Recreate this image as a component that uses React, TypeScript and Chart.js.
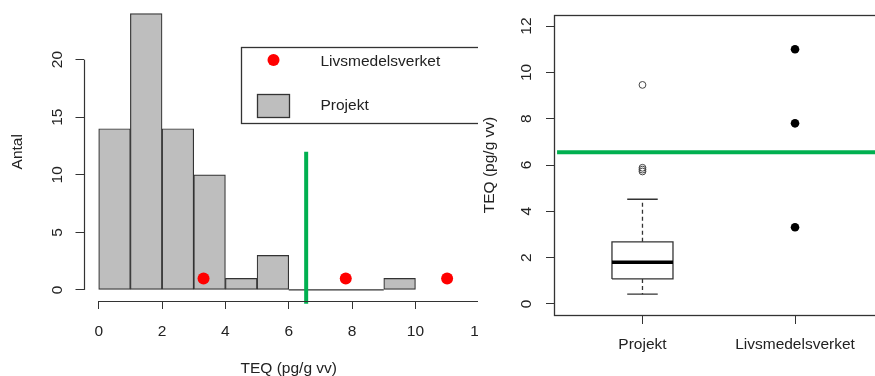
import React, { useEffect, useRef } from "react";
import { Chart, registerables } from "chart.js";

Chart.register(...registerables);

// ---------------- data ----------------
const histBinEdges = [0, 1, 2, 3, 4, 5, 6, 7, 8, 9, 10];
const histCounts = [14, 24, 14, 10, 1, 3, 0, 0, 0, 1];
const histXTicks = [0, 2, 4, 6, 8, 10, 12];
const histYTicks = [0, 5, 10, 15, 20];
const livsmedelsverketValues = [3.31, 7.8, 11.0];
const livsmedelsverketCountLevel = 1;
const limitValue = 6.55;
const limitSpanCounts = [-1.2, 12];

const boxCategories = ["Projekt", "Livsmedelsverket"];
// lower whisker, Q1, median, Q3, upper whisker
const projektStats = [0.42, 1.08, 1.8, 2.68, 4.52];
const projektOutliers = [5.72, 5.8, 5.88, 9.46];
const boxYTicks = [0, 2, 4, 6, 8, 10, 12];
const legendLabels = ["Livsmedelsverket", "Projekt"];

// ---------------- axis ranges (R style 4% extension) ----------------
const histXRange = [-0.48, 12.48];
const histYRange = [-0.96, 24.96];
const boxXRange = [0.42, 2.58];
const boxYRange = [-0.48, 12.48];

// ---------------- styles ----------------
const FONT = "'Liberation Sans', Arial, Helvetica, sans-serif";
const FS = 15.5;
const TXT = "#222222";
const AXIS = "#333333";
const BAR_FILL = "#BEBEBE";
const GREEN = "#00B050";
const RED = "#FF0000";

const W_LEFT = 500;
const H = 376;
const W_RIGHT = 420;

function tickGrid(len: number) {
  return {
    display: true,
    drawOnChartArea: false,
    drawTicks: true,
    offset: false,
    tickLength: len,
    tickColor: AXIS,
    tickWidth: 1,
  };
}

function zeroPad(s: any) {
  s.paddingTop = 0;
  s.paddingBottom = 0;
  s.paddingLeft = 0;
  s.paddingRight = 0;
}

// ---------------- histogram chart ----------------
function histConfig(): any {
  const bars = histCounts.map((c, i) => ({
    x: (histBinEdges[i] + histBinEdges[i + 1]) / 2,
    y: c,
  }));
  const zeroBins: any[] = [];
  histCounts.forEach((c, i) => {
    if (c === 0) {
      zeroBins.push({ x: histBinEdges[i], y: 0 }, { x: histBinEdges[i + 1], y: 0 });
    } else {
      zeroBins.push({ x: histBinEdges[i], y: null });
    }
  });
  const redPts = livsmedelsverketValues.map((v) => ({ x: v, y: livsmedelsverketCountLevel }));
  const limitLine = limitSpanCounts.map((c) => ({ x: limitValue, y: c }));

  const decor = {
    id: "histDecor",
    afterDraw(chart: any) {
      const { ctx, chartArea, scales } = chart;
      const x = scales.x;
      const y = scales.y;
      ctx.save();
      ctx.strokeStyle = AXIS;
      ctx.lineWidth = 1.2;
      // x axis line (first to last tick)
      const yb = Math.round(chartArea.bottom) + 0.5;
      ctx.beginPath();
      ctx.moveTo(x.getPixelForValue(histXTicks[0]), yb);
      ctx.lineTo(x.getPixelForValue(histXTicks[histXTicks.length - 1]), yb);
      ctx.stroke();
      // y axis line (first to last tick)
      const xl = Math.round(chartArea.left) + 0.5;
      ctx.beginPath();
      ctx.moveTo(xl, y.getPixelForValue(histYTicks[0]));
      ctx.lineTo(xl, y.getPixelForValue(histYTicks[histYTicks.length - 1]));
      ctx.stroke();

      // legend (R style box)
      const lx = Math.round(x.getPixelForValue(4.49)) + 0.5;
      const ly = Math.round(y.getPixelForValue(21.09)) + 0.5;
      ctx.lineWidth = 1.3;
      ctx.strokeRect(lx, ly, 300, 76);
      ctx.fillStyle = RED;
      ctx.beginPath();
      ctx.arc(lx + 32, ly + 12.5, 6, 0, Math.PI * 2);
      ctx.fill();
      ctx.fillStyle = BAR_FILL;
      ctx.fillRect(lx + 16, ly + 47, 32, 23);
      ctx.strokeRect(lx + 16, ly + 47, 32, 23);
      ctx.fillStyle = TXT;
      ctx.font = `${FS}px ${FONT}`;
      ctx.textBaseline = "middle";
      ctx.textAlign = "left";
      ctx.fillText(legendLabels[0], lx + 79, ly + 14);
      ctx.fillText(legendLabels[1], lx + 79, ly + 58);
      ctx.restore();
    },
  };

  return {
    type: "bar",
    data: {
      datasets: [
        {
          type: "bar",
          data: bars,
          backgroundColor: BAR_FILL,
          borderColor: AXIS,
          borderWidth: 1.2,
          borderSkipped: false,
          barPercentage: 1,
          categoryPercentage: 1,
          order: 4,
        },
        {
          type: "line",
          data: zeroBins,
          borderColor: AXIS,
          borderWidth: 1.2,
          pointRadius: 0,
          spanGaps: false,
          order: 3,
        },
        {
          type: "line",
          data: limitLine,
          borderColor: GREEN,
          borderWidth: 4,
          pointRadius: 0,
          clip: false,
          order: 2,
        },
        {
          type: "line",
          data: redPts,
          showLine: false,
          pointRadius: 6,
          pointBackgroundColor: RED,
          pointBorderWidth: 0,
          order: 1,
        },
      ],
    },
    options: {
      animation: false,
      responsive: false,
      events: [],
      layout: { autoPadding: false, padding: { top: 2.5, right: 6, left: 0, bottom: 0 } },
      plugins: { legend: { display: false }, tooltip: { enabled: false } },
      scales: {
        x: {
          type: "linear",
          offset: false,
          min: histXRange[0],
          max: histXRange[1],
          afterBuildTicks: (s: any) => {
            s.ticks = histXTicks.map((v) => ({ value: v }));
          },
          afterFit: (s: any) => {
            s.height = 75;
            zeroPad(s);
          },
          grid: tickGrid(8),
          border: { display: false },
          ticks: {
            color: TXT,
            font: { family: FONT, size: FS },
            padding: 13,
            maxRotation: 0,
            autoSkip: false,
          },
          title: {
            display: true,
            text: "TEQ (pg/g vv)",
            color: TXT,
            font: { family: FONT, size: FS },
            padding: { top: 0, bottom: -2 },
          },
        },
        y: {
          type: "linear",
          min: histYRange[0],
          max: histYRange[1],
          afterBuildTicks: (s: any) => {
            s.ticks = histYTicks.map((v) => ({ value: v }));
          },
          afterFit: (s: any) => {
            s.width = 83.5;
            zeroPad(s);
          },
          grid: tickGrid(8),
          border: { display: false },
          ticks: {
            color: TXT,
            font: { family: FONT, size: FS },
            padding: 9.5,
            minRotation: 90,
            maxRotation: 90,
            crossAlign: "center",
            autoSkip: false,
          },
          title: {
            display: true,
            text: "Antal",
            color: TXT,
            font: { family: FONT, size: FS },
            padding: { top: 8.7, bottom: 0 },
          },
        },
      },
    },
    plugins: [decor],
  };
}

// ---------------- boxplot chart ----------------
function boxConfig(): any {
  const [lo, q1, med, q3, hi] = projektStats;
  const c = 1; // position of "Projekt"
  const half = 0.2;
  const capHalf = 0.1;
  const boxOutline = [
    { x: c - half, y: q1 },
    { x: c + half, y: q1 },
    { x: c + half, y: q3 },
    { x: c - half, y: q3 },
    { x: c - half, y: q1 },
  ];
  const medianLine = [
    { x: c - half, y: med },
    { x: c + half, y: med },
  ];
  const whiskers = [
    { x: c, y: q3 },
    { x: c, y: hi },
    { x: c, y: null },
    { x: c, y: q1 },
    { x: c, y: lo },
  ];
  const caps = [
    { x: c - capHalf, y: hi },
    { x: c + capHalf, y: hi },
    { x: c, y: null },
    { x: c - capHalf, y: lo },
    { x: c + capHalf, y: lo },
  ];
  const outliers = projektOutliers.map((v) => ({ x: c, y: v }));
  const lvPts = livsmedelsverketValues.map((v) => ({ x: 2, y: v }));
  const limitLine = [
    { x: 0.44, y: limitValue },
    { x: boxXRange[1], y: limitValue },
  ];

  const frame = {
    id: "boxFrame",
    afterDraw(chart: any) {
      const { ctx, chartArea } = chart;
      ctx.save();
      ctx.strokeStyle = AXIS;
      ctx.lineWidth = 1.3;
      ctx.strokeRect(
        Math.round(chartArea.left) + 0.5,
        Math.round(chartArea.top) + 0.5,
        Math.round(chartArea.right - chartArea.left),
        Math.round(chartArea.bottom - chartArea.top)
      );
      ctx.restore();
    },
  };

  const lineDs = (data: any[], extra: any = {}) => ({
    type: "line",
    data,
    borderColor: AXIS,
    borderWidth: 1.3,
    pointRadius: 0,
    spanGaps: false,
    ...extra,
  });

  return {
    type: "line",
    data: {
      datasets: [
        lineDs(limitLine, { borderColor: GREEN, borderWidth: 4, order: 1 }),
        lineDs(boxOutline, { order: 5 }),
        lineDs(medianLine, { borderColor: "#000", borderWidth: 3.5, order: 4 }),
        lineDs(whiskers, { borderDash: [4, 3], order: 6 }),
        lineDs(caps, { order: 6 }),
        {
          type: "line",
          data: outliers,
          showLine: false,
          pointRadius: 3.4,
          pointBackgroundColor: "rgba(255,255,255,0)",
          pointBorderColor: "#444",
          pointBorderWidth: 1,
          order: 3,
        },
        {
          type: "line",
          data: lvPts,
          showLine: false,
          pointRadius: 4.3,
          pointBackgroundColor: "#000",
          pointBorderWidth: 0,
          order: 2,
        },
      ],
    },
    options: {
      animation: false,
      responsive: false,
      events: [],
      layout: { autoPadding: false, padding: { top: 15, right: 16.5, left: 0, bottom: 0 } },
      plugins: { legend: { display: false }, tooltip: { enabled: false } },
      scales: {
        x: {
          type: "linear",
          offset: false,
          min: boxXRange[0],
          max: boxXRange[1],
          afterBuildTicks: (s: any) => {
            s.ticks = boxCategories.map((_, i) => ({ value: i + 1 }));
          },
          afterFit: (s: any) => {
            s.height = 61;
            zeroPad(s);
          },
          grid: tickGrid(9),
          border: { display: false },
          ticks: {
            color: TXT,
            font: { family: FONT, size: FS },
            padding: 11.5,
            maxRotation: 0,
            autoSkip: false,
            callback: (v: any) => boxCategories[Math.round(v) - 1] ?? "",
          },
        },
        y: {
          type: "linear",
          min: boxYRange[0],
          max: boxYRange[1],
          afterBuildTicks: (s: any) => {
            s.ticks = boxYTicks.map((v) => ({ value: v }));
          },
          afterFit: (s: any) => {
            s.width = 74;
            zeroPad(s);
          },
          grid: tickGrid(8),
          border: { display: false },
          ticks: {
            color: TXT,
            font: { family: FONT, size: FS },
            padding: 10.4,
            minRotation: 90,
            maxRotation: 90,
            crossAlign: "center",
            autoSkip: false,
          },
          title: {
            display: true,
            text: "TEQ (pg/g vv)",
            color: TXT,
            font: { family: FONT, size: FS },
            padding: { top: 0.4, bottom: 0 },
          },
        },
      },
    },
    plugins: [frame],
  };
}

export default function App() {
  const leftRef = useRef<HTMLCanvasElement>(null);
  const rightRef = useRef<HTMLCanvasElement>(null);

  useEffect(() => {
    const c1 = new Chart(leftRef.current as HTMLCanvasElement, histConfig());
    const c2 = new Chart(rightRef.current as HTMLCanvasElement, boxConfig());
    return () => {
      c1.destroy();
      c2.destroy();
    };
  }, []);

  return (
    <div
      style={{
        position: "fixed",
        left: 0,
        top: 0,
        width: 875,
        height: H,
        overflow: "hidden",
        background: "#fff",
      }}
    >
      <div style={{ position: "absolute", left: 0, top: 0, width: 478, height: H, overflow: "hidden" }}>
        <canvas ref={leftRef} width={W_LEFT} height={H} style={{ display: "block" }} />
      </div>
      <div style={{ position: "absolute", left: 480, top: 0, width: 395, height: H, overflow: "hidden" }}>
        <canvas ref={rightRef} width={W_RIGHT} height={H} style={{ display: "block" }} />
      </div>
    </div>
  );
}
